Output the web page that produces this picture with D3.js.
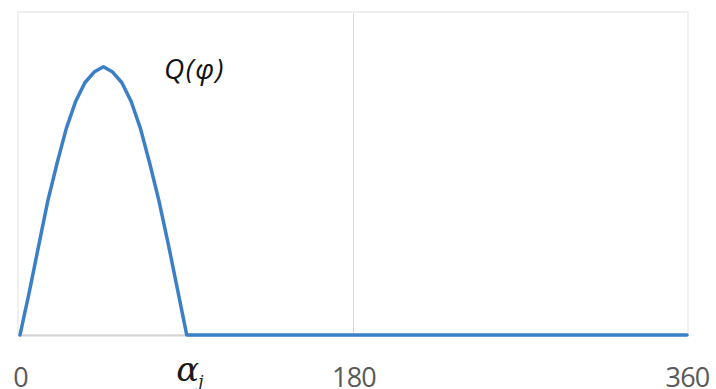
<!DOCTYPE html>
<html>
<head>
<meta charset="utf-8">
<script src="https://cdnjs.cloudflare.com/ajax/libs/d3/7.8.5/d3.min.js"></script>
<style>
  html, body { margin: 0; padding: 0; background: #ffffff; }
  svg { display: block; }
</style>
</head>
<body>
<svg id="chart" width="716" height="389"></svg>
<script>
// Angle (degrees) and load Q(φ): positive lobe up to α_j, zero beyond
const angles  = [0, 5, 10, 15, 20, 25, 30, 35, 40, 45, 50, 55, 60, 65, 70, 75, 80, 85, 90, 180, 270, 360];
const qValues = [0, 0.16, 0.33, 0.5, 0.64, 0.77, 0.87, 0.94, 0.98, 1.0, 0.98, 0.94, 0.87, 0.77, 0.64, 0.5, 0.34, 0.17, 0, 0, 0, 0];
const tickValues = [0, 90, 180, 360];
const tickLabels = ["0", "α_j", "180", "360"];
const gridValues = [180];
const curveLabel = "Q(φ)";

const svg = d3.select("#chart");
const margin = { left: 20, right: 29, top: 13, bottom: 54 };
const W = 716, H = 389;

const x = d3.scaleLinear().domain([0, 360]).range([margin.left, W - margin.right]);
const y = d3.scaleLinear().domain([0, 1.2]).range([H - margin.bottom, margin.top]);

// faint chart frame
svg.append("rect")
  .attr("x", x(0) - 2).attr("y", y(1.2) - 1)
  .attr("width", x(360) - x(0) + 3).attr("height", y(0) - y(1.2) + 1)
  .attr("fill", "none").attr("stroke", "#ececec").attr("stroke-width", 1.5);

// vertical gridline
svg.selectAll("line.grid").data(gridValues).join("line")
  .attr("class", "grid")
  .attr("x1", d => x(d)).attr("x2", d => x(d))
  .attr("y1", y(1.2)).attr("y2", y(0))
  .attr("stroke", "#d9d9d9").attr("stroke-width", 1);

// x axis (no tick marks)
const axis = d3.axisBottom(x)
  .tickValues(tickValues)
  .tickSize(0)
  .tickPadding(0)
  .tickFormat((d, i) => tickLabels[i]);

const gx = svg.append("g")
  .attr("transform", `translate(0,${y(0)})`)
  .call(axis);
gx.select(".domain").attr("stroke", "#d4d4d4").attr("stroke-width", 2);
gx.selectAll(".tick text")
  .attr("y", 52)
  .attr("dy", null)
  .attr("font-family", "'Open Sans', 'Noto Sans', sans-serif")
  .attr("font-size", 27)
  .attr("letter-spacing", -0.8)
  .attr("fill", "#595959");

// render α_j with a subscript
gx.selectAll(".tick text").filter(d => d === 90)
  .text(null)
  .attr("text-anchor", "start")
  .attr("letter-spacing", 0)
  .attr("x", -11)
  .attr("y", 46)
  .attr("fill", "#1a1a1a")
  .attr("font-family", "'DejaVu Serif', 'Liberation Serif', serif")
  .attr("font-style", "italic")
  .call(t => {
    t.append("tspan").attr("font-size", 34).text("α");
    t.append("tspan").attr("font-size", 17).attr("dx", -1).attr("dy", 6).text("j");
  });

// Q(φ) curve
const line = d3.line().x((d, i) => x(angles[i])).y(d => y(d));
svg.append("path")
  .datum(qValues)
  .attr("d", line)
  .attr("fill", "none")
  .attr("stroke", "#3b7fc7")
  .attr("stroke-width", 3.5)
  .attr("stroke-linejoin", "round")
  .attr("stroke-linecap", "round");

// curve label
svg.append("text")
  .attr("x", 164).attr("y", 79)
  .attr("font-family", "'Open Sans', 'Noto Sans', sans-serif")
  .attr("font-style", "italic")
  .attr("font-size", 28)
  .attr("letter-spacing", 1.5)
  .attr("fill", "#111")
  .text(curveLabel);
</script>
</body>
</html>
